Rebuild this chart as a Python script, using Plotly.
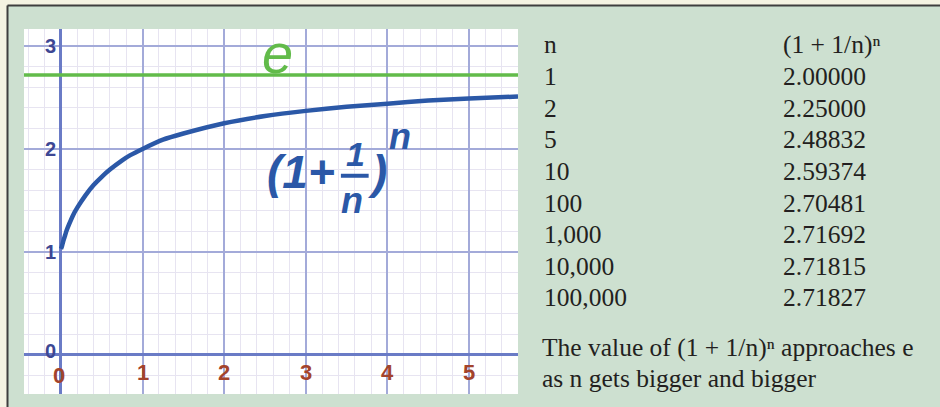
import plotly.graph_objects as go

# curve (1 + 1/x)^x
curve_x = [0, 0.01, 0.02, 0.03, 0.05, 0.07, 0.1, 0.15, 0.2, 0.3, 0.4, 0.5, 0.6, 0.75,
           0.85, 1, 1.25, 1.5, 2, 2.5, 3, 3.5, 4, 4.5, 5, 5.6]
curve_y = [1.03, 1.05, 1.08, 1.11, 1.16, 1.21, 1.27, 1.36, 1.43, 1.55, 1.65, 1.73, 1.80, 1.89,
           1.94, 2.0, 2.09, 2.15, 2.25, 2.32, 2.37, 2.41, 2.44, 2.47, 2.49, 2.51]
e_value = 2.71828

x_ticks = [0, 1, 2, 3, 4, 5]
y_ticks = [0, 1, 2, 3]

# table on the right
n_labels = ["1", "2", "5", "10", "100", "1,000", "10,000", "100,000"]
n_values = [2.00000, 2.25000, 2.48832, 2.59374, 2.70481, 2.71692, 2.71815, 2.71827]
caption = ["The value of (1 + 1/n)ⁿ approaches e", "as n gets bigger and bigger"]

W, H = 940, 407
BLUE = "#2b58a7"
GREEN = "#62bb4a"
TEXT = "#231f20"
SERIF = "Liberation Serif, DejaVu Serif, serif"
SANS = "Liberation Sans, Arial, sans-serif"


def px(x):
    return x / W


def py(y):
    return 1 - y / H


fig = go.Figure()

fig.add_trace(
    go.Scatter(
        x=curve_x,
        y=curve_y,
        mode="lines",
        line=dict(color=BLUE, width=4.5, shape="spline", smoothing=0.5),
        hoverinfo="skip",
        showlegend=False,
    )
)

annotations = []

# axis numbers drawn on the paper (the two zeros are nudged apart)
for v in y_ticks:
    annotations.append(dict(x=0, y=v, xref="x", yref="y", text=f"<b>{v}</b>", showarrow=False,
                            xanchor="right", yanchor="middle", xshift=-3,
                            yshift=4 if v == 0 else 0,
                            font=dict(family=SANS, size=20, color="#3d4794")))
for v in x_ticks:
    annotations.append(dict(x=v, y=0, xref="x", yref="y", text=f"<b>{v}</b>", showarrow=False,
                            xanchor="center", yanchor="middle",
                            yshift=-21 if v == 0 else -18,
                            xshift=-2 if v == 0 else 0,
                            font=dict(family=SANS, size=22, color="#a3432c")))

# "e" label and the formula
annotations.append(dict(x=2.65, y=2.93, xref="x", yref="y", text="<i>e</i>", showarrow=False,
                        font=dict(family=SANS, size=56, color=GREEN)))
formula = [
    ("(1+", 2.94, 1.78, 46),
    ("1", 3.61, 1.95, 34),
    ("n", 3.57, 1.50, 36),
    (")", 3.87, 1.78, 46),
    ("n", 4.15, 2.12, 36),
]
for txt, fx, fy, size in formula:
    annotations.append(dict(x=fx, y=fy, xref="x", yref="y", text=f"<b><i>{txt}</i></b>",
                            showarrow=False, xanchor="center", yanchor="middle",
                            font=dict(family=SANS, size=size, color=BLUE)))


def table_text(x, y, text):
    return dict(x=px(x), y=py(y), xref="paper", yref="paper", text=text, showarrow=False,
                xanchor="left", yanchor="middle", font=dict(family=SERIF, size=25.5, color=TEXT))


# table
row0, row_step = 45, 31.6
annotations.append(table_text(542, row0, "n"))
annotations.append(table_text(781, row0, "(1 + 1/n)ⁿ"))
for i, (lab, val) in enumerate(zip(n_labels, n_values)):
    annotations.append(table_text(542, row0 + row_step * (i + 1), lab))
    annotations.append(table_text(781, row0 + row_step * (i + 1), f"{val:.5f}"))
for i, line in enumerate(caption):
    annotations.append(table_text(540, 347 + 31 * i, line))

fig.update_layout(
    width=W,
    height=H,
    margin=dict(l=0, r=0, t=0, b=0),
    paper_bgcolor="#cde0d0",
    plot_bgcolor="#ffffff",
    annotations=annotations,
    showlegend=False,
)

# cream margin and dark frame
fig.add_shape(type="rect", xref="paper", yref="paper", x0=0, x1=px(7), y0=0, y1=1,
              fillcolor="#f4f3e2", line_width=0, layer="below")
fig.add_shape(type="rect", xref="paper", yref="paper", x0=0, x1=1, y0=py(5), y1=1,
              fillcolor="#f4f3e2", line_width=0, layer="below")
fig.add_shape(type="line", xref="paper", yref="paper", x0=px(7.5), x1=1, y0=py(5.5), y1=py(5.5),
              line=dict(color="#3e3e3e", width=2))
fig.add_shape(type="line", xref="paper", yref="paper", x0=px(7.5), x1=px(7.5), y0=0, y1=py(5.5),
              line=dict(color="#3e3e3e", width=2))
# fraction bar of the formula
fig.add_shape(type="line", xref="x", yref="y", x0=3.43, x1=3.77, y0=1.74, y1=1.74,
              line=dict(color=BLUE, width=4), layer="above")
# the e line
fig.add_hline(y=e_value, line=dict(color=GREEN, width=3.5))

fig.update_xaxes(
    domain=[px(24), px(518)],
    range=[-0.453, 5.60],
    tick0=0,
    dtick=1,
    showticklabels=False,
    ticks="",
    gridcolor="#a3aad9",
    gridwidth=1.5,
    zeroline=True,
    zerolinecolor="#6a7bc6",
    zerolinewidth=2.5,
    minor=dict(tick0=0, dtick=0.2, showgrid=True, gridcolor="#e7e4f1", gridwidth=1),
    fixedrange=True,
)
fig.update_yaxes(
    domain=[py(394), py(29)],
    range=[-0.379, 3.165],
    tick0=0,
    dtick=1,
    showticklabels=False,
    ticks="",
    gridcolor="#a3aad9",
    gridwidth=1.5,
    zeroline=True,
    zerolinecolor="#6a7bc6",
    zerolinewidth=2.5,
    minor=dict(tick0=0, dtick=0.2, showgrid=True, gridcolor="#e7e4f1", gridwidth=1),
    fixedrange=True,
)

# the page's default body margin would push the figure 8px down and right
fig.write_html(
    "out.html",
    config={"displayModeBar": False},
    post_script="document.body.style.margin = '0';",
)
